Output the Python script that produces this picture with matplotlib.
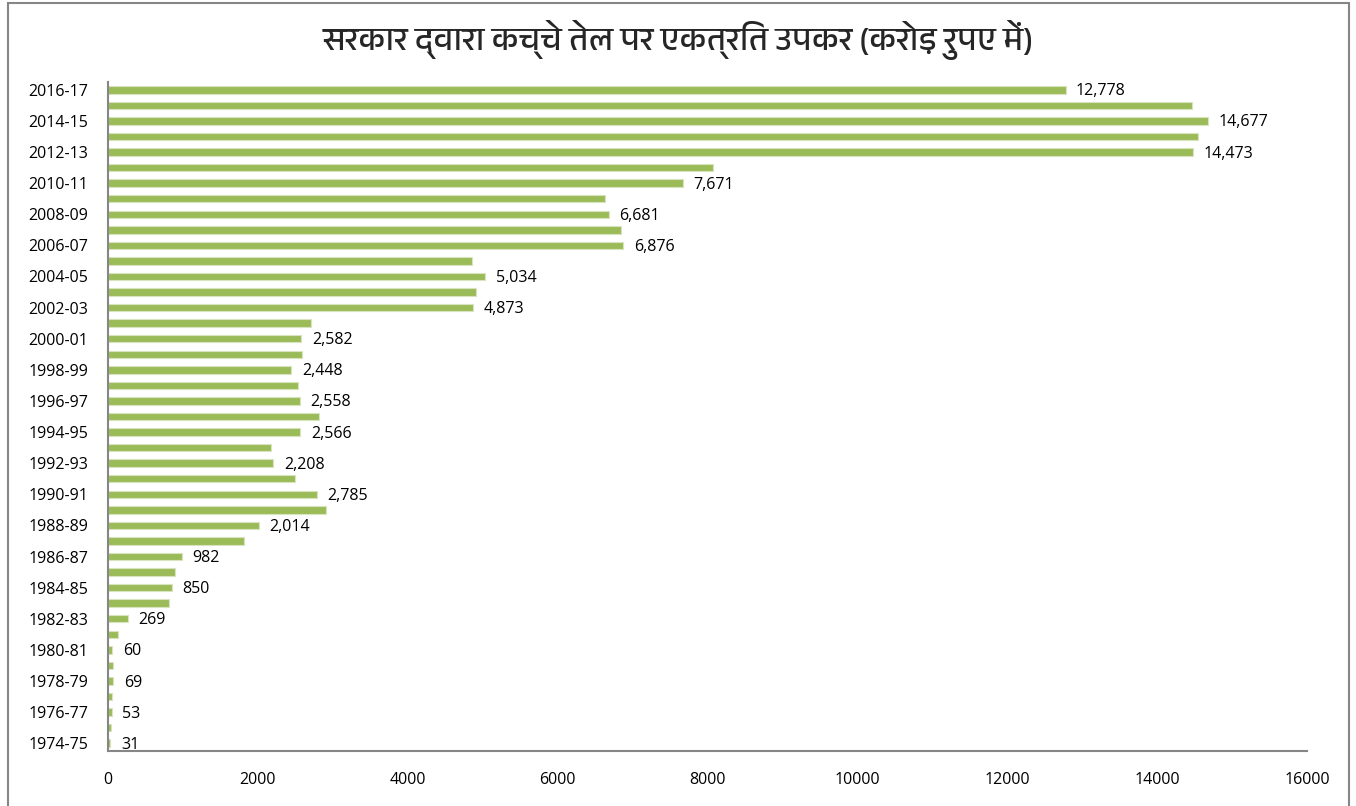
import matplotlib
matplotlib.use("Agg")
import matplotlib.pyplot as plt
from matplotlib import font_manager
from matplotlib.patches import Rectangle

years = ["1974-75", "1975-76", "1976-77", "1977-78", "1978-79", "1979-80", "1980-81",
         "1981-82", "1982-83", "1983-84", "1984-85", "1985-86", "1986-87", "1987-88",
         "1988-89", "1989-90", "1990-91", "1991-92", "1992-93", "1993-94", "1994-95",
         "1995-96", "1996-97", "1997-98", "1998-99", "1999-00", "2000-01", "2001-02",
         "2002-03", "2003-04", "2004-05", "2005-06", "2006-07", "2007-08", "2008-09",
         "2009-10", "2010-11", "2011-12", "2012-13", "2013-14", "2014-15", "2015-16",
         "2016-17"]
cess = [31, 45, 53, 60, 69, 72, 60,
        140, 269, 820, 850, 897, 982, 1810,
        2014, 2912, 2785, 2498, 2208, 2172, 2566,
        2822, 2558, 2531, 2448, 2594, 2582, 2714,
        4873, 4915, 5034, 4853, 6876, 6850, 6681,
        6630, 7671, 8068, 14473, 14539, 14677, 14460,
        12778]
x_ticks = [0, 2000, 4000, 6000, 8000, 10000, 12000, 14000, 16000]
title = "सरकार द्वारा कच्चे तेल पर एकत्रित उपकर (करोड़ रुपए में)"

# fonts
names = {f.name for f in font_manager.fontManager.ttflist}
latin = [n for n in ["Liberation Sans Narrow", "Open Sans", "DejaVu Sans"] if n in names]
deva = [n for n in sorted(names) if "Devanagari" in n]
title_family = deva + ["DejaVu Sans"] if deva else ["Noto Sans", "DejaVu Sans"]
plt.rcParams["font.family"] = latin

fig = plt.figure(figsize=(13.56, 8.06), dpi=100)
ax = fig.add_axes([108 / 1356, 1 - 751 / 806, (1307 - 108) / 1356, (751 - 82) / 806])

ypos = list(range(len(years)))
ax.barh(ypos, cess, height=0.48, color="#9BBB59", edgecolor="#D7E4BD", linewidth=0.8)

for i, v in enumerate(cess):
    if i % 2 == 0:
        ax.text(v + 140, i - 0.1, f"{v:,}", va="center", ha="left", fontsize=11.5, color="#000000")

ax.set_ylim(-0.5, len(years) - 0.5)
ax.set_xlim(0, 16000)
ax.set_yticks(ypos[::2])
ax.set_yticklabels(years[::2], fontsize=11.5)
ax.set_xticks(x_ticks)
ax.set_xticklabels([str(t) for t in x_ticks], fontsize=11.5)
ax.tick_params(axis="x", length=0, pad=15)
ax.tick_params(axis="y", length=0, pad=14)
for s in ["top", "right"]:
    ax.spines[s].set_visible(False)
for s in ["left", "bottom"]:
    ax.spines[s].set_color("#868686")
    ax.spines[s].set_linewidth(1.5)

fig.text(0.5, 1 - 40 / 806, title, ha="center", va="center", fontsize=24,
         fontweight="bold", color="#262626", family=title_family)

fig.patches.append(Rectangle((8 / 1356, -0.01), (1349 - 8) / 1356, 1 - 3 / 806 + 0.01,
                             transform=fig.transFigure, fill=False,
                             edgecolor="#868686", linewidth=1.5))

fig.savefig("out.png", dpi=100)
